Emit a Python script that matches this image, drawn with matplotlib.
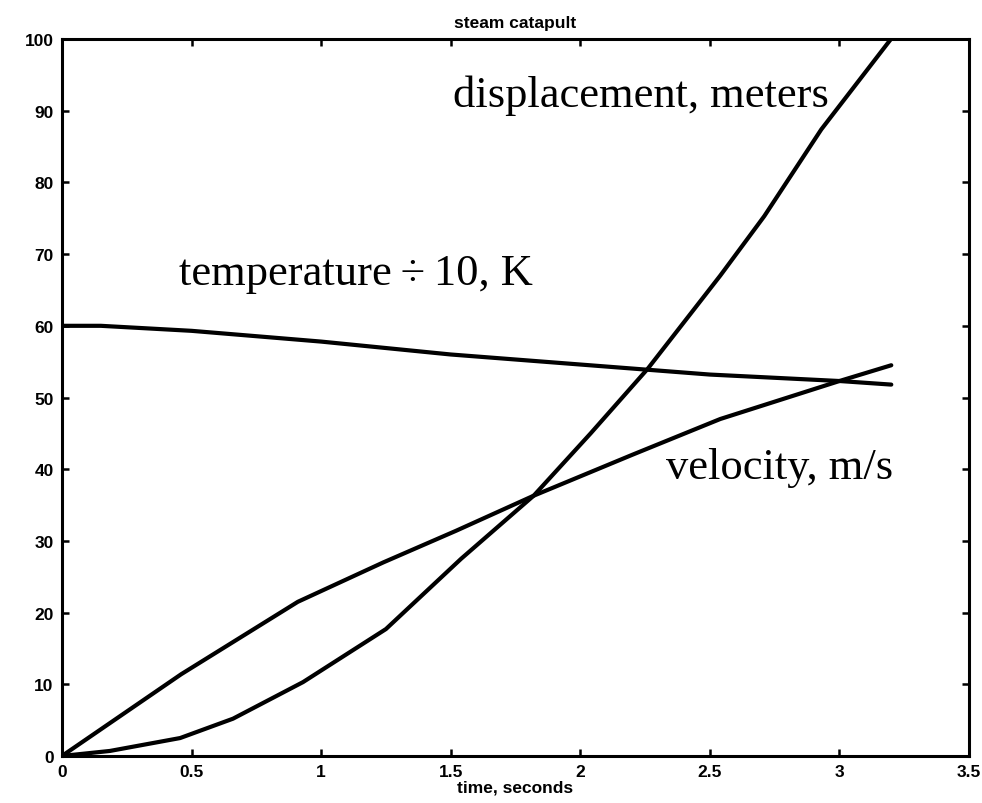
import matplotlib
matplotlib.use("Agg")
import matplotlib.pyplot as plt

# values
vel_t = [0, 0.46, 0.91, 1.24, 1.52, 1.82, 2.2, 2.54, 3.0, 3.2]
vel = [0, 11.4, 21.5, 27, 31.4, 36.3, 42, 47, 52.3, 54.5]

disp_t = [0, 0.185, 0.456, 0.66, 0.93, 1.25, 1.54, 1.82, 2.04, 2.26, 2.54, 2.71, 2.93, 3.22]
disp = [0, 0.7, 2.5, 5.2, 10.3, 17.7, 27.5, 36.3, 45, 54, 67, 75.3, 87.4, 101]

temp_t = [0, 0.15, 0.5, 1.0, 1.5, 2.0, 2.5, 3.0, 3.2]
temp = [60, 60, 59.3, 57.8, 56, 54.6, 53.2, 52.3, 51.8]

xticks = [0, 0.5, 1, 1.5, 2, 2.5, 3, 3.5]
xticklabels = ["0", "0.5", "1", "1.5", "2", "2.5", "3", "3.5"]
yticks = list(range(0, 101, 10))

fig = plt.figure(figsize=(9.82, 8.04), dpi=100)
ax = fig.add_axes([0.0631, 0.0585, 0.9237, 0.8917])

for xs, ys in [(vel_t, vel), (disp_t, disp), (temp_t, temp)]:
    ax.plot(xs, ys, color="black", lw=3, solid_joinstyle="round", solid_capstyle="round")

ax.set_xlim(0, 3.5)
ax.set_ylim(0, 100)
ax.set_xticks(xticks)
ax.set_xticklabels(xticklabels)
ax.set_yticks(yticks)

for s in ax.spines.values():
    s.set_linewidth(2.2)
ax.tick_params(direction="in", length=5, width=1.8, top=True, right=True,
               labelsize=12.5, pad=6)
for lab in ax.get_xticklabels() + ax.get_yticklabels():
    lab.set_fontfamily("Liberation Sans")
    lab.set_fontweight("bold")

ax.set_title("steam catapult", fontsize=12.5, fontweight="bold",
             fontfamily="Liberation Sans", pad=9)
ax.set_xlabel("time, seconds", fontsize=12.5, fontweight="bold",
              fontfamily="Liberation Sans", labelpad=0)

serif = dict(fontsize=32, fontfamily="Liberation Serif", va="baseline", ha="left")
ax.text(1.51, 90.7, "displacement, meters", **serif)
ax.text(0.45, 65.8, "temperature\u2009\u00f7\u200910, K", **serif)
ax.text(2.33, 38.8, "velocity, m/s", **serif)

fig.savefig("out.png", dpi=100)
